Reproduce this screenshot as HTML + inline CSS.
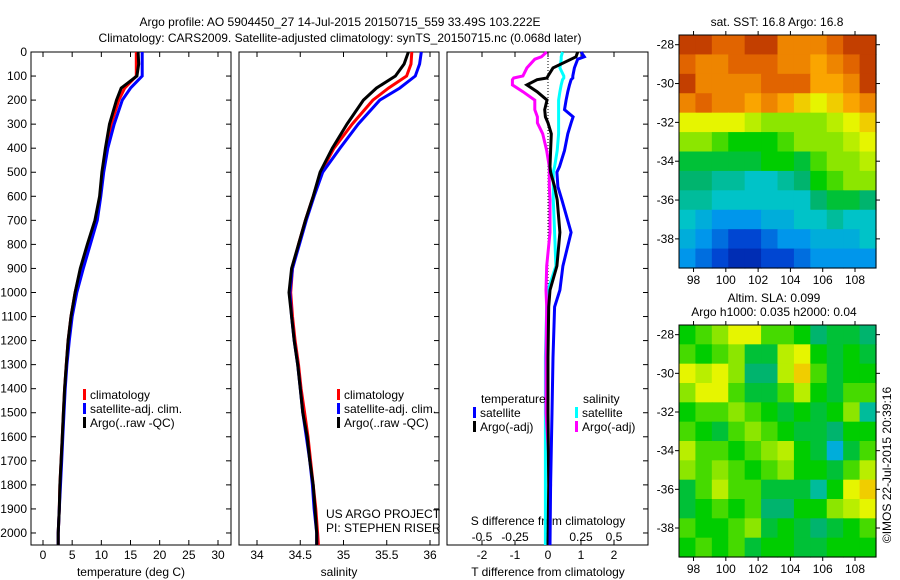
<!DOCTYPE html>
<html><head><meta charset="utf-8"><style>
html,body{margin:0;padding:0;background:#fff}
svg{display:block;font-family:"Liberation Sans",sans-serif;font-size:12px}
</style></head><body>
<svg id="fig" width="900" height="580" viewBox="0 0 900 580">
<text x="340" y="26" text-anchor="middle">Argo profile: AO 5904450_27 14-Jul-2015 20150715_559 33.49S 103.222E</text>
<text x="340" y="42" text-anchor="middle">Climatology: CARS2009. Satellite-adjusted climatology: synTS_20150715.nc (0.068d later)</text>
<g id="g1"></g>
<g id="g2"></g>
<g id="g3"></g>
<g id="m1"></g>
<g id="m2"></g>
<text x="777" y="26" text-anchor="middle">sat. SST: 16.8 Argo: 16.8</text>
<text x="774" y="302" text-anchor="middle">Altim. SLA: 0.099</text>
<text x="774" y="316" text-anchor="middle">Argo h1000: 0.035 h2000: 0.04</text>
<text transform="translate(891,465) rotate(-90)" text-anchor="middle">©IMOS 22-Jul-2015 20:39:16</text>
<text x="326" y="518">US ARGO PROJECT</text>
<text x="326" y="532">PI: STEPHEN RISER</text>
</svg>
<script>
const NS="http://www.w3.org/2000/svg";
const depths=[0,50,100,150,200,300,400,500,600,700,800,900,1000,1100,1200,1300,1400,1500,1600,1700,1800,1900,2000,2050];
const tClim=[16.0,16.0,16.0,14.0,13.0,11.7,10.8,10.2,9.8,9.0,7.7,6.5,5.5,4.8,4.3,4.0,3.7,3.5,3.3,3.1,2.9,2.8,2.6,2.6];
const tSat=[17.0,17.0,17.0,15.0,13.6,12.2,11.1,10.4,9.9,9.3,8.1,6.9,5.8,5.0,4.5,4.1,3.8,3.6,3.4,3.2,3.0,2.8,2.6,2.6];
const tArgo=[16.3,16.4,16.1,13.4,12.6,11.4,10.7,10.1,9.7,8.9,7.6,6.4,5.5,4.8,4.3,4.0,3.7,3.5,3.3,3.1,2.9,2.8,2.6,2.6];
const sClim=[35.79,35.78,35.73,35.52,35.34,35.10,34.89,34.74,34.65,34.56,34.48,34.41,34.39,34.41,34.44,34.48,34.51,34.55,34.59,34.62,34.65,34.68,34.70,34.71];
const sSat=[35.90,35.88,35.83,35.65,35.42,35.17,34.96,34.76,34.66,34.57,34.49,34.41,34.38,34.40,34.43,34.47,34.50,34.53,34.57,34.61,34.64,34.66,34.69,34.69];
const sArgo=[35.75,35.70,35.60,35.38,35.23,35.04,34.87,34.73,34.65,34.56,34.48,34.40,34.37,34.40,34.43,34.47,34.50,34.53,34.58,34.61,34.65,34.67,34.69,34.69];
const dDepths=[0,20,30,66,100,108,115,137,165,200,240,270,295,340,410,477,500,560,615,750,890,990,1060,1270,1500,1800,2050];
const dtSat=[1.0,1.1,0.9,0.8,0.75,0.75,0.7,0.65,0.6,0.55,0.5,0.76,0.7,0.6,0.5,0.35,0.27,0.3,0.42,0.7,0.45,0.36,0.2,0.15,0.12,0.08,0.06];
const dtArgo=[0.9,0.85,0.7,0.15,0.0,-0.03,-0.33,-0.64,-0.33,-0.03,-0.1,-0.08,0.0,0.1,0.08,0.06,0.08,0.2,0.28,0.36,0.27,0.06,0.02,0.0,0.0,0.02,0.0];
const dsSat=[0.11,0.1,0.1,0.09,0.12,0.12,0.11,0.1,0.09,0.08,0.08,0.08,0.08,0.08,0.07,0.05,0.04,0.04,0.04,0.05,0.06,0.0,-0.01,-0.02,-0.02,-0.02,-0.02];
const dsArgo=[-0.01,-0.05,-0.1,-0.16,-0.19,-0.26,-0.27,-0.27,-0.19,-0.1,-0.1,-0.08,-0.08,-0.04,-0.01,0.01,0.01,0.01,0.015,0.015,-0.01,-0.015,-0.01,-0.015,-0.015,0.02,0.0];
const depthTicks=[0,100,200,300,400,500,600,700,800,900,1000,1100,1200,1300,1400,1500,1600,1700,1800,1900,2000];
const tTicks=[0,5,10,15,20,25,30];
const sTicks=[34,34.5,35,35.5,36];
const sTickLabels=["34","34.5","35","35.5","36"];
const dTTicks=[-2,-1,0,1,2];
const dSTicks=[-0.5,-0.25,0,0.25,0.5];
const dSTickLabels=["-0.5","-0.25","0","0.25","0.5"];
const lats=[-28,-30,-32,-34,-36,-38];
const lons=[98,100,102,104,106,108];
const sstGrid=[
[9.5,9.5,9,9,9.5,9.5,8.5,8.5,8.5,9,9.5,9.5],
[9,8.5,8.5,9,9,9,8.5,8.5,8,8.5,9,9.5],
[9.5,8.5,8.5,8.5,8.5,9,9,9,8,8,8.5,9.5],
[8.5,9,8.5,8.5,8,8.5,8,7.5,7,7.5,8,8.5],
[7,7,7,7,6.5,6,6,6,6,6.5,7,7.5],
[6,6,5.5,5,5,5,5.5,6,6,6,6.5,7],
[4.5,4.5,4.5,4.5,4.5,5,5,4.5,5.5,6,6,6.5],
[4,4,3.5,3.5,3,3,3.5,4,5,5.5,6,6],
[3.5,3.5,3,3,3,3,3,3,4,4.5,4.5,4],
[3,2.5,2,2,2,2.5,2.5,3,3,3.5,3,3],
[2.5,2,1.5,1,1,1.5,2,2,2.5,2.5,2.5,3],
[2,1.5,1,0.5,0.5,1,1,1.5,2,2,2,2]];
const slaGrid=[
[5,5.5,6,7,7,5.5,5.5,5,4,4.5,4.5,4],
[5.5,5,5.5,6,4.5,4.5,6.5,7,5,4.5,5,4.5],
[7,6.5,7,6,4,4,6.5,7.5,5.5,4.5,5,5],
[6,7,7,5.5,4.5,4.5,5.5,6.5,5,4.5,5.5,5.5],
[5,5.5,5.5,6,5.5,5,4.5,5,4.5,5,6,3.5],
[5.5,5,4.5,5.5,6,5.5,5,4.5,4.5,4,5,5],
[6.5,5.5,5.5,5,5.5,6,6.5,5,4.5,2.5,4.5,5.5],
[6,5.5,6,5.5,5,5.5,6,5,5,4.5,5.5,6.5],
[4.5,5.5,6.5,5.5,5.5,4.5,4.5,4.5,3.5,5,7,7.5],
[4.5,5,5.5,5,5.5,4,4,5,5,6,6.5,7],
[5.5,5,5,5.5,6,4.5,5,4.5,4,4.5,5,5.5],
[5,5.5,5,5.5,4.5,5,5,4.5,4.5,5,5,5]];

function mk(parent,tag,attrs){const e=document.createElementNS(NS,tag);for(const k in attrs)e.setAttribute(k,attrs[k]);parent.appendChild(e);return e;}
const Y0=52,Y1=545;
const yD=d=>Y0+(d/2050)*(Y1-Y0);
function panel(g,x0,x1,name,leftTicks){
  const r=mk(g,'rect',{x:x0,y:Y0,width:x1-x0,height:Y1-Y0,fill:'none',stroke:'#000','stroke-width':1});
  
  
  depthTicks.forEach(d=>{const y=yD(d);
    if(leftTicks) mk(g,'line',{x1:x0,x2:x0+5,y1:y,y2:y,stroke:'#000'});
    mk(g,'line',{x1:x1-5,x2:x1,y1:y,y2:y,stroke:'#000'});});
}
function line(g,xs,ds,xf,color,name){
  const p=mk(g,'polyline',{points:xs.map((v,i)=>xf(v).toFixed(1)+','+yD(ds[i]).toFixed(1)).join(' '),fill:'none',stroke:color,'stroke-width':3,'stroke-linejoin':'miter'});
  
  
}
function txt(g,x,y,s,anchor,name){const t=mk(g,'text',{x:x,y:y,'text-anchor':anchor||'start'});t.textContent=s;
  
  return t;}
function xticks(g,vals,labels,xf,name){vals.forEach((v,i)=>{const x=xf(v);
  mk(g,'line',{x1:x,x2:x,y1:Y0,y2:Y0+5,stroke:'#000'});mk(g,'line',{x1:x,x2:x,y1:Y1-5,y2:Y1,stroke:'#000'});
  txt(g,x,559,labels[i],'middle',name);});}
function legend(g,x,y,items){items.forEach((it,i)=>{const yy=y+i*14;
  const r=mk(g,'rect',{x:x,y:yy-10,width:3,height:11,fill:it[0]});
  
  
  txt(g,x+7,yy,it[1],'start','legend-entry');});}

// Panel 1
const g1=document.getElementById('g1');
const xT=v=>43+v*(218-43)/30;
panel(g1,31,231,'temperature-axes',true);
depthTicks.forEach(d=>txt(g1,27,yD(d)+4,String(d),'end','depth-tick-label'));
xticks(g1,tTicks,tTicks.map(String),xT,'temperature-tick-label');
txt(g1,131,576,'temperature (deg C)','middle','x-axis-title-temperature');
line(g1,tClim,depths,xT,'#f00','temp-climatology');
line(g1,tSat,depths,xT,'#00f','temp-satellite-adj');
line(g1,tArgo,depths,xT,'#000','temp-argo');
legend(g1,83,399,[['#f00','climatology'],['#00f','satellite-adj. clim.'],['#000','Argo(..raw -QC)']]);

// Panel 2
const g2=document.getElementById('g2');
const xS=v=>257+(v-34)*86.5;
panel(g2,239,439,'salinity-axes',false);
xticks(g2,sTicks,sTickLabels,xS,'salinity-tick-label');
txt(g2,339,576,'salinity','middle','x-axis-title-salinity');
line(g2,sClim,depths,xS,'#f00','sal-climatology');
line(g2,sSat,depths,xS,'#00f','sal-satellite-adj');
line(g2,sArgo,depths,xS,'#000','sal-argo');
legend(g2,337,399,[['#f00','climatology'],['#00f','satellite-adj. clim.'],['#000','Argo(..raw -QC)']]);

// Panel 3
const g3=document.getElementById('g3');
const xDT=v=>548+v*33;
const xDS=v=>548+v*132;
panel(g3,447,648,'difference-axes',false);
xticks(g3,dTTicks,dTTicks.map(String),xDT,'tdiff-tick-label');
dSTicks.forEach((v,i)=>txt(g3,xDS(v),541,dSTickLabels[i],'middle','sdiff-tick-label'));
txt(g3,548,525,'S difference from climatology','middle','sdiff-axis-title');
txt(g3,548,576,'T difference from climatology','middle','tdiff-axis-title');
const zl=mk(g3,'line',{x1:548,x2:548,y1:Y0,y2:300,stroke:'#000','stroke-dasharray':'1,2'});


line(g3,dsSat,dDepths,xDS,'#0ff','sdiff-satellite');
line(g3,dsArgo,dDepths,xDS,'#f0f','sdiff-argo');
line(g3,dtArgo,dDepths,xDT,'#000','tdiff-argo');
line(g3,dtSat,dDepths,xDT,'#00f','tdiff-satellite');
txt(g3,481,403,'temperature','start','legend-title-temperature');
txt(g3,583,403,'salinity','start','legend-title-salinity');
legend(g3,473,417,[['#00f','satellite'],['#000','Argo(-adj)']]);
legend(g3,575,417,[['#0ff','satellite'],['#f0f','Argo(-adj)']]);

// Maps
const jetStops=[[0,20,150],[0,70,210],[0,150,235],[0,195,200],[0,180,110],[0,205,0],[140,230,0],[230,245,0],[250,165,0],[225,100,0],[165,25,0]];
function jet(v){const i=Math.max(0,Math.min(9.999,v));const a=Math.floor(i),f=i-a;const c0=jetStops[a],c1=jetStops[a+1];
  return 'rgb('+c0.map((c,k)=>Math.round(c+(c1[k]-c)*f)).join(',')+')';}
function map(id,grid,x0,y0,x1,y1,latTop,latBot,name){
  const g=document.getElementById(id);
  const lonL=97.1,lonR=109.3;
  const xL=v=>x0+(v-lonL)/(lonR-lonL)*(x1-x0);
  const yL=v=>y0+(latTop-v)/(latTop-latBot)*(y1-y0);
  const rows=grid.length,cols=grid[0].length;
  const cw=(x1-x0)/cols,ch=(y1-y0)/rows;
  grid.forEach((row,r)=>row.forEach((v,c)=>{
    const e=mk(g,'rect',{x:(x0+c*cw).toFixed(2),y:(y0+r*ch).toFixed(2),width:(cw+0.6).toFixed(2),height:(ch+0.6).toFixed(2),fill:jet(v)});
    
    
  }));
  const f=mk(g,'rect',{x:x0,y:y0,width:x1-x0,height:y1-y0,fill:'none',stroke:'#000'});
  
  
  lats.forEach(l=>{const y=yL(l);mk(g,'line',{x1:x0-4,x2:x0,y1:y,y2:y,stroke:'#000'});mk(g,'line',{x1:x1,x2:x1+4,y1:y,y2:y,stroke:'#000'});
    txt(g,x0-5,y+4,String(l),'end',name+'-lat-label');});
  lons.forEach(l=>{const x=xL(l);mk(g,'line',{x1:x,x2:x,y1:y0-4,y2:y0,stroke:'#000'});mk(g,'line',{x1:x,x2:x,y1:y1,y2:y1+4,stroke:'#000'});
    txt(g,x,y1+16,String(l),'middle',name+'-lon-label');});
}
map('m1',sstGrid,679,35,876,268,-27.5,-39.5,'sst-map');
map('m2',slaGrid,679,325,876,557,-27.5,-39.5,'sla-map');
</script>
</body></html>
